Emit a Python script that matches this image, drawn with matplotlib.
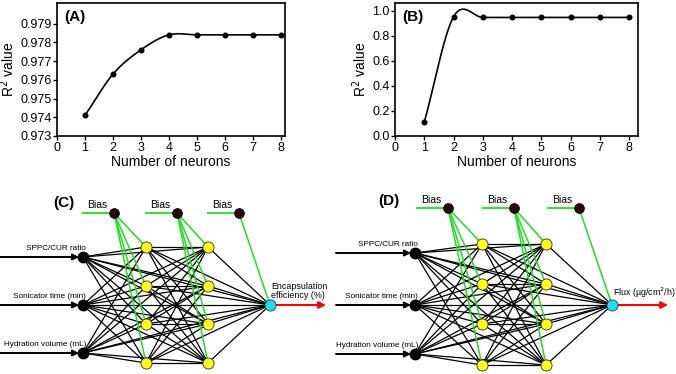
import numpy as np
import matplotlib
matplotlib.use("Agg")
import matplotlib.pyplot as plt

plt.rcParams['font.family'] = ['Liberation Sans', 'DejaVu Sans']

# neurons vs R2 for the two responses
neurons = [1, 2, 3, 4, 5, 6, 7, 8]
r2_ee = [0.9741, 0.9763, 0.9776, 0.9784, 0.9784, 0.9784, 0.9784, 0.9784]
r2_flux = [0.11, 0.95, 0.945, 0.945, 0.945, 0.945, 0.945, 0.945]

# network structure
input_labels = ['SPPC/CUR ratio', 'Sonicator time (min)', 'Hydration volume (mL)']
hidden_sizes = [4, 4]
output_labels = ['Encapsulation\nefficiency (%)', 'Flux (\u00b5g/cm$^2$/h)']
panel_tags = ['(C)', '(D)']


def smooth_curve(x, y, n=40):
    # Catmull-Rom style hermite curve through the points
    x = np.asarray(x, float)
    y = np.asarray(y, float)
    m = np.empty_like(y)
    m[1:-1] = (y[2:] - y[:-2]) / 2
    m[0] = y[1] - y[0]
    m[-1] = y[-1] - y[-2]
    xs, ys = [], []
    for i in range(len(x) - 1):
        t = np.linspace(0, 1, n)
        h00 = 2 * t ** 3 - 3 * t ** 2 + 1
        h10 = t ** 3 - 2 * t ** 2 + t
        h01 = -2 * t ** 3 + 3 * t ** 2
        h11 = t ** 3 - t ** 2
        xs.append(x[i] + t * (x[i + 1] - x[i]))
        ys.append(h00 * y[i] + h10 * m[i] + h01 * y[i + 1] + h11 * m[i + 1])
    return np.concatenate(xs), np.concatenate(ys)


fig = plt.figure(figsize=(6.76, 3.74), dpi=100)
W, H = 676, 374


def pix_axes(l, t, r, b):
    return fig.add_axes([l / W, 1 - b / H, (r - l) / W, (b - t) / H])


def line_panel(ax, y, ylim, yticks, fmt, tag, xmax):
    xs, ys = smooth_curve(neurons, y)
    ax.plot(xs, ys, color='black', lw=1.2)
    ax.plot(neurons, y, 'o', color='black', ms=3.3)
    ax.set_xlim(0, xmax)
    ax.set_ylim(*ylim)
    ax.set_xticks(range(0, 9))
    ax.set_yticks(yticks)
    ax.set_yticklabels([fmt.format(v) for v in yticks])
    ax.tick_params(labelsize=9, length=3, width=1, pad=1)
    ax.set_xlabel('Number of neurons', fontsize=10, labelpad=1)
    ax.set_ylabel('R$^2$ value', fontsize=10, labelpad=2)
    for s in ax.spines.values():
        s.set_linewidth(1.2)
    ax.text(0.03, 0.95, tag, transform=ax.transAxes, fontsize=11, fontweight='bold',
            va='top', ha='left')


axA = pix_axes(57, 3, 285, 136)
line_panel(axA, r2_ee, (0.973, 0.9801), [0.973, 0.974, 0.975, 0.976, 0.977, 0.978, 0.979],
           '{:.3f}', '(A)', 8.15)
axB = pix_axes(395, 3, 638, 136)
line_panel(axB, r2_flux, (0, 1.06), [0, 0.2, 0.4, 0.6, 0.8, 1.0], '{:.1f}', '(B)', 8.3)

# network diagrams drawn in pixel coordinates
net = fig.add_axes([0, 0, 1, 1], zorder=-1)
net.set_xlim(0, W)
net.set_ylim(H, 0)
net.axis('off')


def draw_net(x0, layer_x, in_y, hid_y, bias_y, out_label, tag, tag_xy, bias_x):
    inputs = [(layer_x[0], yy) for yy in in_y]
    h1 = [(layer_x[1], yy) for yy in hid_y]
    h2 = [(layer_x[2], yy) for yy in hid_y]
    out = [(layer_x[3], in_y[1])]
    layers = [inputs, h1, h2, out]
    # cascade connections
    for i in range(len(layers)):
        for j in range(i + 1, len(layers)):
            for p in layers[i]:
                for q in layers[j]:
                    net.plot([p[0], q[0]], [p[1], q[1]], color='black', lw=0.9, zorder=1)
    # bias nodes
    for k, bx in enumerate(bias_x):
        net.plot([bx - 31, bx], [bias_y, bias_y], color='#22dd22', lw=1.3, zorder=2)
        net.text(bx - 17, bias_y - 3, 'Bias', fontsize=7.5, ha='center', va='bottom')
        for q in layers[k + 1]:
            net.plot([bx, q[0]], [bias_y, q[1]], color='#22dd22', lw=1.1, zorder=2)
        net.plot(bx, bias_y, 'o', ms=7, mfc='#2a0808', mec='black', mew=0.6, zorder=4)
    # input arrows and labels
    for (px, py), lab in zip(inputs, input_labels):
        net.annotate('', xy=(px - 4, py), xytext=(x0, py),
                     arrowprops=dict(arrowstyle='-|>', color='black', lw=1.4,
                                     mutation_scale=9, shrinkA=0, shrinkB=0), zorder=3)
        net.text(px + 3, py - 5, lab, fontsize=5.9, ha='right', va='bottom')
        net.plot(px, py, 'o', ms=7.5, color='black', zorder=4)
    for p in h1 + h2:
        net.plot(*p, 'o', ms=8, mfc='#ffff22', mec='#333300', mew=0.6, zorder=4)
    ox, oy = out[0]
    net.annotate('', xy=(ox + 56, oy), xytext=(ox, oy),
                 arrowprops=dict(arrowstyle='-|>', color='red', lw=1.5,
                                 mutation_scale=10, shrinkA=0, shrinkB=0), zorder=3)
    net.plot(ox, oy, 'o', ms=8, mfc='#22ddee', mec='#114455', mew=0.6, zorder=5)
    net.text(ox + 1, oy - 5, out_label, fontsize=6.4, ha='left', va='bottom', linespacing=0.95)
    net.text(tag_xy[0], tag_xy[1], tag, fontsize=11, fontweight='bold',
             ha='center', va='center')


draw_net(0, [83, 146, 208, 270], [257, 305, 353], [247, 286, 324, 363], 213,
         output_labels[0], panel_tags[0], (64, 203), [114, 177, 239])
draw_net(336, [415, 482, 546, 612], [253, 305, 354], [244, 284, 324, 365], 208,
         output_labels[1], panel_tags[1], (389, 201), [448, 514, 579])

fig.savefig('out.png', dpi=100)
